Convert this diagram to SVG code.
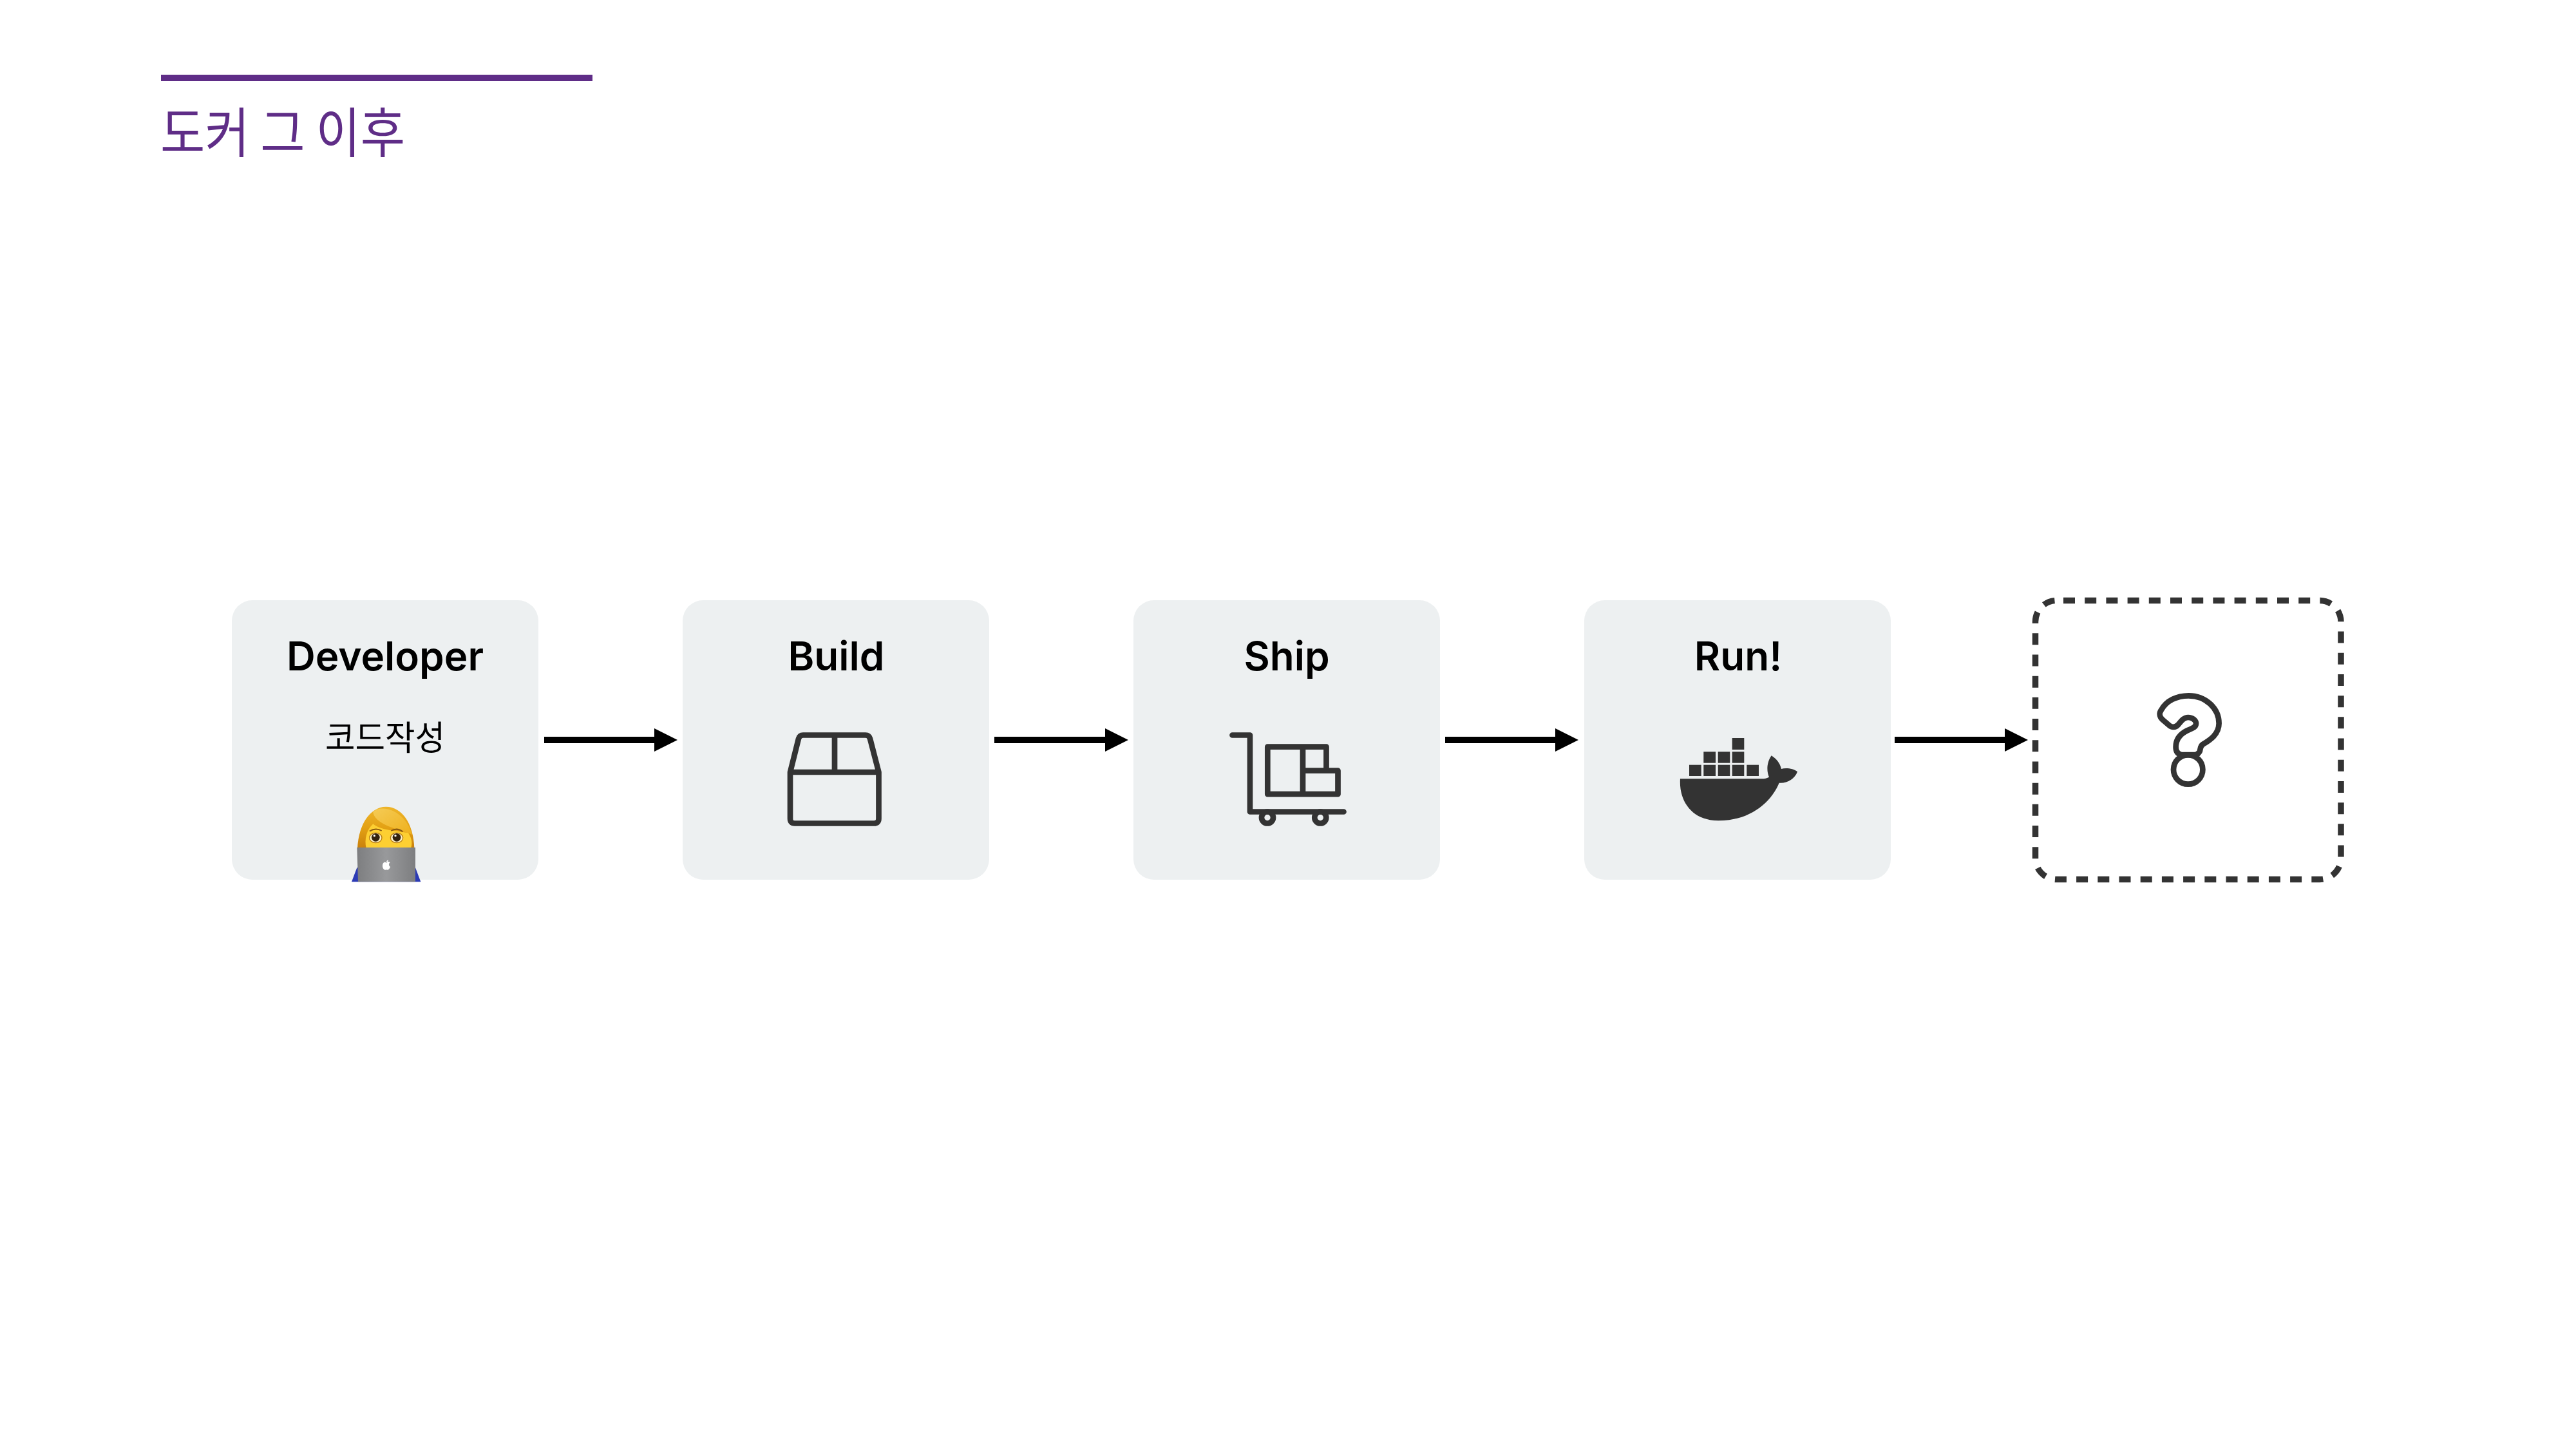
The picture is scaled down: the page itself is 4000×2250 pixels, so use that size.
<svg xmlns="http://www.w3.org/2000/svg" width="4000" height="2250" viewBox="0 0 4000 2250">
<style>
.card{fill:#edf0f1}
.head{font-family:"Inter","Liberation Sans",sans-serif;font-weight:600;font-size:62px;fill:#000;text-anchor:middle}
.ko{font-family:"Noto Sans CJK KR","Liberation Sans",sans-serif}
.icon{fill:none;stroke:#333;stroke-width:8.7;stroke-linejoin:round;stroke-linecap:butt}
.arrow{stroke:#000;stroke-width:10;fill:none;marker-end:url(#head)}
</style>
<defs>
<marker id="head" markerUnits="userSpaceOnUse" markerWidth="36" markerHeight="36" refX="0" refY="18" orient="auto"><path d="M0 0L36 18L0 36Z" fill="#000"/></marker>
<linearGradient id="hair" x1="0" y1="0" x2="0" y2="1"><stop offset="0" stop-color="#eeb52a"/><stop offset=".5" stop-color="#e3a114"/><stop offset="1" stop-color="#c9800c"/></linearGradient>
<linearGradient id="top" x1="0" y1="0" x2="1" y2="1"><stop offset="0" stop-color="#f5cb55"/><stop offset="1" stop-color="#eeb01c"/></linearGradient>
<linearGradient id="lap" x1="0" y1="0" x2="1" y2="0"><stop offset="0" stop-color="#7d7e80"/><stop offset=".5" stop-color="#98999b"/><stop offset="1" stop-color="#7d7e80"/></linearGradient>
</defs>
<g id="title">
<rect x="250" y="116" width="670" height="10" fill="#5f2d87"/>
<text class="ko" x="249" y="237" font-size="84" fill="#5f2d87" textLength="380" lengthAdjust="spacingAndGlyphs">도커 그 이후</text>
</g>
<g id="connectors">
<line class="arrow" x1="845" y1="1149" x2="1016" y2="1149"/>
<line class="arrow" x1="1544" y1="1149" x2="1716" y2="1149"/>
<line class="arrow" x1="2244" y1="1149" x2="2415" y2="1149"/>
<line class="arrow" x1="2942" y1="1149" x2="3113" y2="1149"/>
</g>
<g id="developer">
<rect class="card" x="360" y="932" width="476" height="434" rx="32"/>
<text class="head" x="598" y="1041">Developer</text>
<text class="ko" x="598" y="1165" font-size="53" fill="#000" text-anchor="middle" textLength="186" lengthAdjust="spacingAndGlyphs">코드작성</text>
<g transform="translate(520 1240) scale(.33333)">
<path d="M78 388L103 322H375L400 388Z" fill="#2c3bb5"/>
<path d="M105 232C110 120 165 38 238 38C315 38 366 120 370 232Z" fill="url(#hair)"/>
<path d="M146 232C136 190 148 145 178 118C215 150 290 150 342 160C362 190 360 215 354 232Z" fill="#fdcf32"/>
<path d="M178 62C215 25 325 50 360 168C310 145 185 125 178 62Z" fill="url(#top)"/>
<path d="M162 152Q190 134 218 150M262 150Q290 134 316 154" fill="none" stroke="#8a5a12" stroke-width="6"/>
<ellipse cx="190" cy="183" rx="31" ry="25" fill="#b67c14"/>
<ellipse cx="288" cy="183" rx="31" ry="25" fill="#b67c14"/>
<ellipse cx="190" cy="183" rx="27" ry="21" fill="#fff3c8"/>
<ellipse cx="288" cy="183" rx="27" ry="21" fill="#fff3c8"/>
<circle cx="190" cy="181" r="19" fill="#33220f"/>
<circle cx="288" cy="181" r="19" fill="#33220f"/>
<circle cx="184" cy="173" r="5" fill="#fff"/>
<circle cx="282" cy="173" r="5" fill="#fff"/>
<path d="M103 228H375V388H108Z" fill="url(#lap)"/>
<path d="M240 300C233 292 222 298 222 314C222 324 230 334 236 332C239 331 241 331 245 332C250 334 258 322 258 318C250 314 250 302 257 298C252 292 245 294 240 300ZM240 297C240 291 244 287 249 286C249 292 245 296 240 297Z" fill="#fff"/>
</g>
</g>
<g id="build">
<rect class="card" x="1060" y="932" width="476" height="434" rx="32"/>
<text class="head" x="1298.500" y="1041">Build</text>
<path class="icon" d="M1227 1199L1240 1147Q1241.500 1141.500 1247 1141.500H1344Q1349.500 1141.500 1351 1147L1364.500 1199V1271Q1364.500 1278.500 1357 1278.500H1234Q1227 1278.500 1227 1271ZM1227 1199H1364.500M1296 1141.500V1199"/>
</g>
<g id="ship">
<rect class="card" x="1760" y="932" width="476" height="434" rx="32"/>
<text class="head" x="1998" y="1041">Ship</text>
<path class="icon" d="M1913.500 1141.500H1941V1260.500H2086.500" style="stroke-linecap:round"/>
<path class="icon" d="M1968.300 1159.700H2059.500V1196.700H2077.500V1233.200H1968.300ZM2023 1159.700V1233.200M2023 1196.700H2059.500"/>
<circle class="icon" cx="1968" cy="1269.500" r="9"/>
<circle class="icon" cx="2050.300" cy="1269.500" r="9"/>
</g>
<g id="run">
<rect class="card" x="2460" y="932" width="476" height="434" rx="32"/>
<text class="head" x="2699" y="1041">Run!</text>
<g fill="#333">
<rect x="2689.700" y="1146" width="18.600" height="18"/>
<rect x="2645.300" y="1167.300" width="18.700" height="17.400"/>
<rect x="2667.700" y="1167.300" width="18.600" height="17.400"/>
<rect x="2689.700" y="1167.300" width="18.600" height="17.400"/>
<rect x="2623" y="1187.700" width="18.700" height="17.300"/>
<rect x="2645.300" y="1187.700" width="18.700" height="17.300"/>
<rect x="2667.700" y="1187.700" width="18.600" height="17.300"/>
<rect x="2689.700" y="1187.700" width="18.600" height="17.300"/>
<rect x="2712.300" y="1187.700" width="18.700" height="17.300"/>
<path transform="translate(2600 1130) scale(.33333)" d="M27 238H405C420 238 433 235 441 230C430 205 428 165 452 130C475 145 492 165 498 192C520 186 555 190 573 205C560 240 525 260 488 257C450 350 350 433 205 433C90 433 20 350 27 238Z"/>
</g>
</g>
<g id="unknown">
<path fill="none" stroke="#333" stroke-width="9.500" stroke-dasharray="18 15.200" d="M3204 932.500H3602A33 33 0 0 1 3635 965.500V1332.500A33 33 0 0 1 3602 1365.500H3193.500A33 33 0 0 1 3160.500 1332.500V965.500A33 33 0 0 1 3193.500 932.500H3204"/>
<path class="icon" d="M3398.500 1080.300C3425 1080.300 3445.600 1100 3445.600 1123.300C3445.600 1140 3432 1149 3421 1155.500C3414 1160 3418.500 1166 3414 1169Q3412 1172 3408 1172H3387Q3378.600 1170 3378.600 1160C3378.600 1147 3387 1139 3396 1134.500C3402 1131.500 3410 1130 3410 1123.500C3410 1118 3404 1114 3397.700 1114C3390 1114 3386 1121 3382 1125.500C3378 1130 3372 1129.500 3368.500 1126.500L3358 1117.500C3353 1113 3352.500 1107 3356 1102.500C3364 1088 3380 1080.300 3398.500 1080.300Z"/>
<circle class="icon" cx="3397.700" cy="1195" r="22.700"/>
</g>
</svg>
